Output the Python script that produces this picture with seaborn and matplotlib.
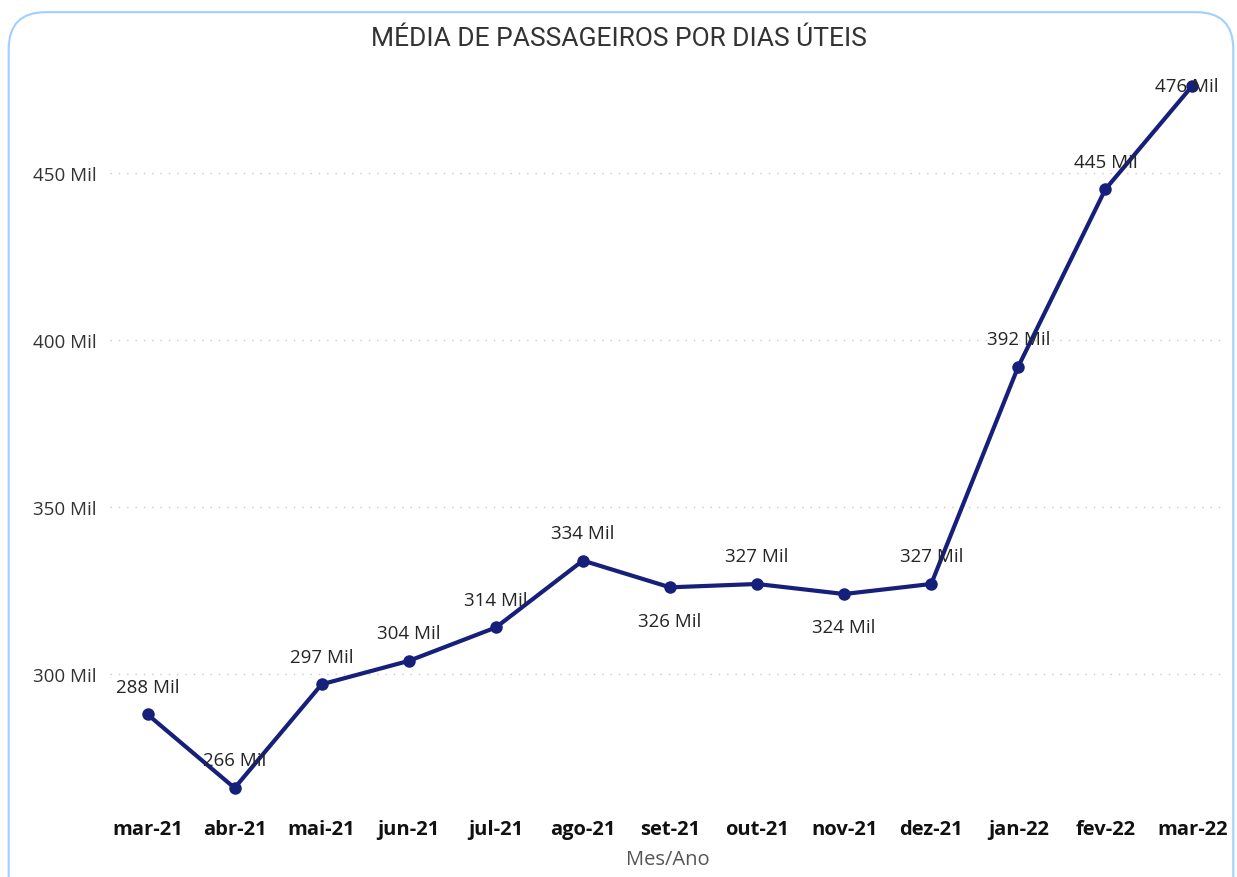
import seaborn as sns
import pandas as pd
import matplotlib.pyplot as plt
from matplotlib.patches import FancyBboxPatch

meses = ["mar-21", "abr-21", "mai-21", "jun-21", "jul-21", "ago-21", "set-21",
         "out-21", "nov-21", "dez-21", "jan-22", "fev-22", "mar-22"]
media_mil = [288, 266, 297, 304, 314, 334, 326, 327, 324, 327, 392, 445, 476]
# rótulos abaixo do ponto
abaixo = ["set-21", "nov-21"]
y_ticks = [300, 350, 400, 450]

df = pd.DataFrame({"Mes/Ano": meses, "Media": media_mil})
df["pos"] = range(len(df))

sns.set_style("white")
plt.rcParams['font.family'] = ['Open Sans', 'DejaVu Sans']

fig = plt.figure(figsize=(12.37, 8.78), dpi=100)
ax = fig.add_axes([0.089, 0.077, 0.901, 0.838])

cor = "#16207a"
sns.lineplot(data=df, x="pos", y="Media", ax=ax, color=cor, linewidth=3,
             marker="o", markersize=9, markeredgewidth=0)

for i, r in df.iterrows():
    if r["Mes/Ano"] in abaixo:
        off = (0, -24)
    elif i == len(df) - 1:
        off = (-4, 0)  # último ponto: rótulo sobre o marcador
    else:
        off = (0, 20)
    ax.annotate(f"{r['Media']} Mil", (r["pos"], r["Media"]), xytext=off,
                textcoords="offset points", ha="center", va="center",
                fontsize=13.5, color="#252525")

ax.set_xlim(-0.43, 12.37)
ax.set_ylim(259.6, 479.6)
ax.set_yticks(y_ticks)
ax.set_yticklabels([f"{v} Mil" for v in y_ticks], fontsize=13.5, color="#333333")
ax.set_xticks(df["pos"])
ax.set_xticklabels(meses, fontsize=14.5, fontweight="bold", color="#111111")
ax.tick_params(axis="both", length=0)
ax.tick_params(axis="y", pad=10)
ax.tick_params(axis="x", pad=7)
ax.grid(axis="y", linestyle=(0, (1, 5)), color="#c8c8c8", linewidth=1)
for s in ax.spines.values():
    s.set_visible(False)
ax.set_xlabel("Mes/Ano", fontsize=14.5, color="#555555", labelpad=7)
ax.set_ylabel("")

fig.text(0.5, 0.956, "MÉDIA DE PASSAGEIROS POR DIAS ÚTEIS", ha="center", va="center",
         fontsize=19, color="#333333", family=['Roboto', 'DejaVu Sans'])

borda = FancyBboxPatch((0.007, -0.05), 0.99, 1.035, transform=fig.transFigure,
                       boxstyle="round,pad=0,rounding_size=0.03",
                       facecolor="none", edgecolor="#9fd0ff", linewidth=1.5,
                       mutation_aspect=1.4)
fig.patches.append(borda)

plt.savefig("out.png", dpi=100)
